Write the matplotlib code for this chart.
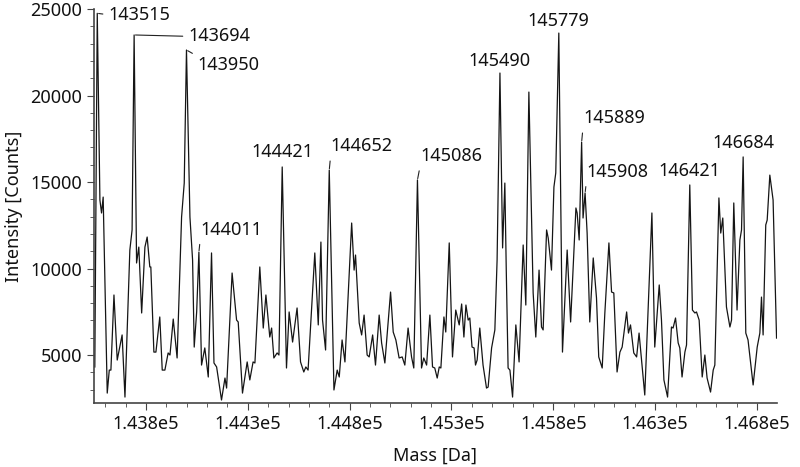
import numpy as np
import matplotlib.pyplot as plt
from matplotlib.ticker import MultipleLocator, FuncFormatter

plt.rcParams['font.family'] = ['Noto Sans', 'DejaVu Sans']

# spectrum trace
mass = [143549, 143561, 143574, 143582, 143590, 143610, 143620, 143628, 143643, 143659,
        143683, 143697, 143721, 143732, 143742, 143754, 143765, 143779, 143795, 143806,
        143819, 143824, 143839, 143849, 143868, 143880, 143893, 143909, 143918, 143934,
        143953, 143975, 143988, 143999, 144016, 144029, 144037, 144049, 144060, 144073,
        144089, 144106, 144122, 144134, 144147, 144171, 144188, 144196, 144223, 144245,
        144253, 144274, 144297, 144310, 144326, 144335, 144359, 144376, 144389, 144408,
        144417, 144428, 144444, 144453, 144469, 144490, 144503, 144520, 144542, 144559,
        144575, 144585, 144596, 144629, 144646, 144659, 144667, 144682, 144700, 144723,
        144739, 144749, 144763, 144777, 144810, 144822, 144829, 144847, 144859, 144871,
        144886, 144896, 144913, 144927, 144945, 144957, 144973, 145001, 145014, 145027,
        145043, 145058, 145071, 145087, 145104, 145115, 145133, 145153, 145164, 145178,
        145194, 145207, 145218, 145230, 145240, 145248, 145263, 145272, 145289, 145305,
        145321, 145338, 145350, 145361, 145371, 145382, 145390, 145401, 145411, 145418,
        145426, 145439, 145455, 145472, 145480, 145497, 145513, 145524, 145538, 145551,
        145562, 145569, 145578, 145587, 145600, 145616, 145632, 145652, 145665, 145680,
        145701, 145714, 145730, 145742, 145750, 145767, 145775, 145791, 145803, 145812,
        145827, 145845, 145868, 145885, 145911, 145917, 145927, 145939, 145946, 145956,
        145966, 145979, 145996, 146012, 146023, 146040, 146053, 146073, 146086, 146097,
        146113, 146127, 146138, 146160, 146169, 146179, 146195, 146209, 146221, 146249,
        146284, 146298, 146320, 146331, 146343, 146361, 146380, 146388, 146400, 146413,
        146421, 146432, 146446, 146454, 146470, 146483, 146495, 146503, 146516, 146531,
        146544, 146555, 146572, 146585, 146593, 146613, 146622, 146632, 146650, 146667,
        146675, 146686, 146702, 146716, 146724, 146732, 146745, 146756, 146781, 146801,
        146814, 146822, 146830, 146843, 146850, 146863, 146879, 146896]
intensity = [4310, 24750, 13960, 13210, 14130, 2800, 4130, 4130, 8470, 4710,
             6160, 2570, 11070, 12230, 23500, 10320, 11240, 7430, 11240, 11820,
             10090, 10090, 5170, 5170, 7200, 4130, 4130, 5120, 5000, 7080,
             4830, 12980, 14940, 22630, 12980, 10490, 5460, 7490, 10950, 4420,
             5410, 3730, 10900, 4540, 4310, 2400, 3670, 3090, 9740, 7020,
             6910, 2800, 4600, 3560, 4600, 4540, 10090, 6560, 8470, 6040,
             6560, 4830, 5120, 5000, 15870, 4250, 7490, 5750, 7720, 4600,
             4020, 4310, 4130, 10900, 6740, 11530, 7020, 5290, 15690, 2980,
             4130, 3730, 5870, 4600, 12630, 9910, 10780, 6850, 6160, 7310,
             5000, 4890, 6160, 4420, 7310, 5700, 4540, 8640, 6330, 5870,
             4830, 4890, 4420, 6560, 4890, 4250, 15120, 4250, 4830, 4420,
             7310, 4310, 4250, 3670, 4310, 4250, 7200, 6330, 11480, 4890,
             7600, 6740, 7950, 6040, 7890, 7020, 7140, 5460, 5410, 4420,
             4710, 6560, 4420, 3090, 3150, 5410, 6450, 10490, 21300, 11190,
             14940, 9910, 4250, 4130, 2570, 6740, 4600, 11360, 7890, 20200,
             8590, 6040, 9910, 6620, 6450, 12230, 11760, 9910, 14710, 15520,
             23610, 5170, 11070, 6910, 13500, 13210, 11650, 17310, 12920, 14370,
             12050, 6910, 10610, 8300, 4890, 4250, 7430, 11480, 8640, 8590,
             4020, 5170, 5460, 7490, 6270, 6740, 5120, 4890, 6270, 2690,
             13210, 5460, 9050, 7020, 3560, 2570, 6620, 6560, 7140, 5700,
             5410, 3730, 5170, 5580, 14830, 7600, 7430, 7490, 7020, 3730,
             5000, 3670, 2860, 4130, 4420, 14080, 12050, 12920, 7780, 6620,
             7020, 13790, 7600, 11650, 12230, 16450, 6270, 5870, 3270, 5460,
             6270, 8350, 6160, 12520, 12800, 15400, 13960, 5980]

# labelled peaks
peak_mass = [143561, 143742, 143999, 144060, 144469, 144700, 145133,
             145538, 145827, 145939, 145956, 146470, 146732]
peak_labels = ['143515', '143694', '143950', '144011', '144421', '144652', '145086',
               '145490', '145779', '145889', '145908', '146421', '146684']

# label offsets in points from the peak and leader style
label_style = [
    (8, -1, 'left', True, (0, 0.5)),
    (39, -1, 'left', True, (0, 0.5)),
    (8, -11, 'left', True, (0, 1)),
    (1, 16, 'left', True, (0, 0)),
    (0, 11, 'center', False, None),
    (1, 17, 'left', True, (0, 0)),
    (2, 17, 'left', True, (0, 0)),
    (0, 9, 'center', False, None),
    (0, 9, 'center', False, None),
    (1, 17, 'left', True, (0, 0)),
    (1, 15, 'left', True, (0, 0)),
    (0, 10, 'center', False, None),
    (0, 10, 'center', False, None),
]

txt = '#111111'
fig = plt.figure(figsize=(8, 4.67), dpi=100)
ax = fig.add_axes([0.1175, 0.137, 0.8537, 0.8437])
ax.plot(mass, intensity, color='#151515', lw=0.9, solid_joinstyle='round')

ax.set_xlim(143545, 146898)
ax.set_ylim(2226, 25000)

for m, lab, (dx, dy, ha, lead, rel) in zip(peak_mass, peak_labels, label_style):
    y = np.interp(m, mass, intensity)
    kw = {}
    if lead:
        kw['arrowprops'] = dict(arrowstyle='-', color='#222222', lw=0.8,
                                relpos=rel, shrinkA=2, shrinkB=1)
    ax.annotate(lab, xy=(m, y), xytext=(dx, dy), textcoords='offset points',
                ha=ha, va='center', fontsize=13, color=txt, **kw)

ax.xaxis.set_minor_locator(MultipleLocator(100))
ax.set_xticks(np.arange(143800, 146900, 500))
ax.xaxis.set_major_formatter(FuncFormatter(lambda v, p: f'{v / 1e5:.3f}e5'))
ax.set_yticks([5000, 10000, 15000, 20000, 25000])
ax.yaxis.set_minor_locator(MultipleLocator(1000))

for s in ['top', 'right']:
    ax.spines[s].set_visible(False)
for s in ['left', 'bottom']:
    ax.spines[s].set_color('#444444')
    ax.spines[s].set_linewidth(1.2)
ax.tick_params(which='both', colors='#444444', labelcolor=txt, labelsize=13)
ax.tick_params(which='major', length=5)
ax.tick_params(which='minor', length=3)

ax.set_xlabel('Mass [Da]', fontsize=13, color=txt, labelpad=10)
ax.set_ylabel('Intensity [Counts]', fontsize=13, color=txt, labelpad=5)

fig.savefig('out.png', dpi=100)
